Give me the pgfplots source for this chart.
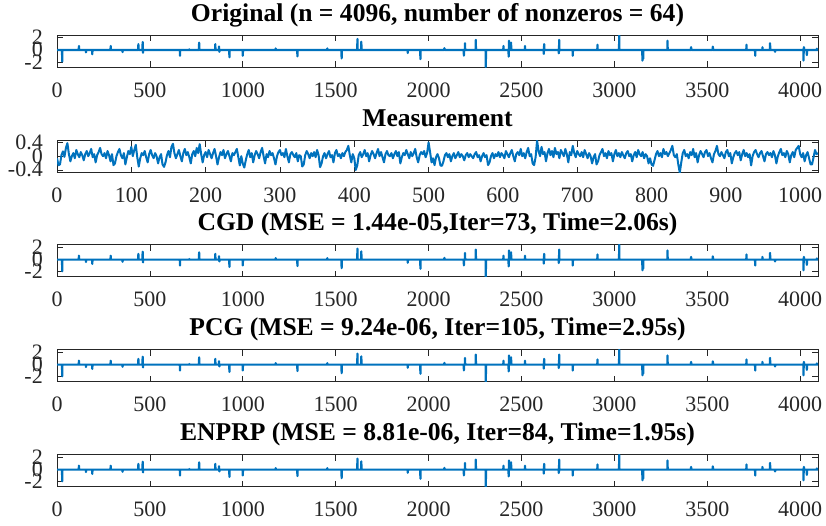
\documentclass[border=0pt]{standalone}
\usepackage{fontspec}
\setmainfont{Liberation Serif}
\usepackage{pgfplots}
\usepackage{pgfplotstable}
\pgfplotsset{compat=1.18}
\definecolor{mblue}{RGB}{0,114,189}
\definecolor{axgray}{RGB}{38,38,38}

% sparse signal: each spike as (i-1,0) (i,v) (i+1,0)
\pgfplotstableread{
x y
1 0
27 0
28 -1.9
29 0
117 0
118 0.65
119 0
155 0
156 -0.4
157 0
189 0
190 -0.7
191 0
288 0
289 0.65
290 0
352 0
353 -0.35
354 0
437 0
438 0.95
439 0
460 0
461 1.3
462 0
463 -0.45
464 0
661 0
662 -0.95
663 0
711 0
712 0.1
713 0
764 0
765 1.2
766 0
851 0
852 0.95
853 0
871 0
872 0.55
873 0
874 -0.3
875 0
927 0
928 -1.2
929 0
999 0
1000 -0.95
1001 0
1176 0
1177 0.25
1178 0
1293 0
1294 -1.05
1295 0
1454 0
1455 0.25
1456 0
1531 0
1532 -1.4
1533 0
1616 0
1617 1.8
1618 0
1637 0
1638 1.35
1639 0
1887 0
1888 -0.5
1889 0
1955 0
1956 -1.5
1957 0
2084 0
2085 0.3
2086 0
2189 0
2190 -0.95
2191 0
2195 0
2196 1.1
2197 0
2253 0
2254 1.65
2255 0
2307 0
2308 -2.8
2309 0
2402 0
2403 0.65
2404 0
2430 0
2431 -1.1
2432 0
2433 1.5
2434 0
2443 0
2444 1.2
2445 0
2518 0
2519 0.65
2520 0
2619 0
2620 -0.65
2621 0
2622 0.95
2623 0
2700 0
2701 -0.55
2702 0
2703 1.65
2704 0
2775 0
2776 -0.95
2777 0
2908 0
2909 0.85
2910 0
3025 0
3026 2.45
3027 0
3150 0
3151 -1.75
3152 0
3154 0
3155 -1.45
3156 0
3285 0
3286 1.5
3287 0
3412 0
3413 0.45
3414 0
3529 0
3530 0.55
3531 0
3710 0
3711 0.85
3712 0
3757 0
3758 -0.95
3759 0
3796 0
3797 0.45
3798 0
3837 0
3838 1.1
3839 0
3864 0
3865 -0.3
3866 0
4017 0
4018 -1.75
4019 0
4020 0.45
4021 0
4035 0
4036 -0.85
4037 0
4089 0
4090 0.2
4091 0
4096 0
}\sparsedata

% measurement, every 2nd sample (0, 2, ..., 1024)
\pgfplotstableread[row sep=\\]{
y\\
-0.06\\-0.26\\-0.24\\0.03\\0.14\\-0.02\\0.24\\0.38\\0.06\\-0.15\\0.00\\0.09\\-0.06\\0.18\\0.06\\-0.03\\0.12\\0.03\\-0.12\\0.06\\0.15\\0.00\\0.09\\0.21\\-0.03\\0.06\\-0.18\\0.03\\0.12\\0.24\\0.06\\0.00\\
0.09\\-0.06\\0.15\\0.03\\-0.15\\0.06\\-0.26\\-0.21\\0.00\\0.12\\0.21\\0.03\\-0.06\\0.09\\-0.24\\-0.03\\0.15\\0.06\\0.27\\0.00\\0.18\\0.33\\-0.03\\-0.30\\-0.06\\0.09\\0.03\\0.15\\-0.03\\-0.18\\0.06\\0.18\\
0.03\\-0.06\\0.09\\0.00\\-0.21\\-0.03\\0.06\\-0.24\\-0.31\\-0.18\\0.03\\0.15\\-0.03\\0.27\\0.36\\0.09\\-0.06\\0.06\\0.18\\0.00\\-0.15\\0.09\\0.21\\0.03\\0.12\\-0.03\\-0.21\\0.06\\0.15\\0.00\\0.24\\0.09\\
0.35\\0.06\\-0.18\\0.03\\0.12\\-0.03\\0.18\\0.06\\-0.06\\0.09\\0.21\\0.00\\-0.24\\-0.03\\0.12\\0.03\\0.18\\-0.06\\0.06\\0.15\\0.00\\-0.15\\0.09\\0.03\\0.12\\0.21\\-0.03\\-0.27\\0.00\\-0.22\\-0.33\\-0.12\\
0.06\\0.18\\-0.03\\0.09\\-0.18\\0.03\\0.15\\0.06\\-0.06\\0.12\\0.24\\0.00\\-0.21\\0.06\\-0.03\\0.15\\0.03\\0.09\\-0.06\\-0.24\\0.00\\0.12\\0.18\\0.03\\0.09\\-0.03\\0.21\\0.00\\-0.18\\0.06\\0.12\\0.03\\
-0.03\\0.09\\-0.15\\0.03\\0.00\\-0.30\\-0.24\\0.03\\0.15\\0.06\\-0.06\\0.09\\0.00\\0.12\\-0.03\\0.18\\0.03\\-0.32\\-0.21\\0.00\\0.09\\-0.06\\0.06\\0.15\\-0.03\\0.03\\-0.18\\0.09\\0.18\\0.00\\0.06\\-0.06\\
0.09\\0.00\\0.12\\0.18\\0.30\\0.03\\-0.18\\0.06\\-0.06\\-0.40\\-0.27\\0.03\\0.12\\-0.03\\0.06\\0.18\\0.00\\0.09\\-0.15\\0.03\\0.15\\0.06\\-0.06\\0.09\\0.21\\0.00\\0.12\\-0.03\\-0.18\\0.06\\0.15\\0.03\\
0.00\\0.09\\-0.06\\0.06\\0.15\\0.00\\0.12\\-0.21\\-0.03\\0.09\\0.03\\0.18\\0.06\\-0.06\\0.12\\0.00\\0.09\\0.21\\-0.03\\-0.18\\0.03\\0.12\\0.06\\0.15\\-0.03\\0.09\\0.40\\0.12\\-0.18\\-0.06\\-0.26\\-0.03\\
0.06\\-0.06\\-0.27\\-0.28\\-0.15\\0.03\\0.09\\-0.03\\0.06\\-0.15\\0.00\\0.09\\-0.06\\0.03\\0.12\\-0.03\\0.06\\0.00\\-0.12\\0.03\\0.09\\-0.03\\0.06\\0.00\\-0.06\\0.06\\0.12\\-0.03\\0.03\\-0.15\\0.00\\0.09\\
-0.03\\0.03\\-0.26\\-0.18\\0.00\\0.09\\-0.06\\0.06\\0.00\\0.12\\-0.03\\0.09\\0.03\\-0.06\\0.15\\0.06\\-0.03\\0.09\\0.18\\0.00\\-0.15\\0.06\\0.12\\0.03\\0.21\\0.00\\0.09\\-0.06\\0.12\\0.24\\0.00\\0.06\\
-0.21\\-0.26\\-0.03\\0.45\\0.15\\0.00\\0.27\\0.06\\0.12\\-0.15\\0.09\\0.21\\0.03\\0.15\\-0.03\\0.24\\0.06\\0.12\\-0.06\\0.18\\0.09\\0.00\\0.21\\0.06\\-0.18\\0.12\\0.03\\0.30\\0.09\\-0.03\\0.15\\0.06\\
0.00\\0.12\\-0.03\\0.18\\0.06\\-0.06\\0.09\\0.00\\-0.21\\-0.03\\0.06\\-0.24\\-0.15\\0.03\\0.12\\0.21\\0.00\\0.09\\-0.06\\0.15\\0.03\\0.09\\-0.15\\0.06\\0.18\\0.00\\0.09\\-0.03\\0.12\\0.03\\-0.06\\0.09\\
0.15\\0.00\\0.06\\-0.15\\0.03\\0.12\\-0.03\\0.18\\0.06\\0.00\\0.12\\-0.06\\0.06\\0.00\\-0.21\\-0.06\\-0.24\\-0.28\\-0.12\\0.06\\0.15\\0.00\\0.09\\-0.03\\0.21\\0.06\\0.12\\0.00\\0.09\\0.18\\0.30\\0.03\\
-0.03\\0.06\\-0.24\\-0.48\\-0.18\\0.09\\0.18\\0.00\\0.06\\-0.06\\0.12\\0.03\\0.21\\-0.03\\0.09\\-0.18\\0.03\\0.15\\0.06\\-0.03\\0.12\\0.18\\0.00\\0.09\\-0.06\\-0.18\\0.06\\0.15\\0.30\\0.06\\0.00\\0.12\\
0.03\\-0.06\\0.12\\0.18\\0.00\\0.09\\-0.21\\-0.03\\0.09\\0.15\\0.03\\0.12\\-0.12\\0.06\\0.18\\0.00\\0.09\\-0.03\\0.06\\-0.27\\0.00\\0.12\\0.18\\0.06\\-0.03\\0.09\\0.15\\0.00\\-0.15\\0.06\\0.12\\0.03\\
0.09\\-0.03\\0.15\\0.03\\-0.21\\0.00\\0.12\\0.21\\0.03\\0.09\\-0.03\\0.15\\0.06\\-0.18\\0.03\\0.12\\-0.03\\0.18\\0.24\\0.30\\0.06\\-0.03\\0.09\\-0.15\\0.03\\0.12\\-0.06\\-0.24\\-0.24\\-0.03\\0.18\\0.06\\
0.09\\
}\measdata

\pgfplotsset{
  panel/.style={
    scale only axis, width=761pt, height=32pt,
    anchor=north west,
    axis line style={axgray, line width=0.7pt},
    tick style={axgray, line width=0.7pt},
    tick align=inside, major tick length=6pt,
    xtick pos=both, ytick pos=both,
    tick label style={font=\fontsize{22}{24}\selectfont, text=axgray},
    /pgf/number format/assume math mode=true,
    /pgf/number format/1000 sep={},
    xticklabel style={anchor=base, inner sep=0pt, yshift=-30pt},
    yticklabel style={anchor=base east, inner sep=0pt, xshift=-14pt, yshift=-7pt},
    title style={font=\fontsize{25.6}{27}\selectfont\bfseries, anchor=base, at={(0.5,1)}, yshift=8pt},
  },
  sparse/.style={
    panel, xmin=0, xmax=4096, ymin=-2.8, ymax=2.45,
    xtick={0,500,...,4000},
    ytick={-2,0,2}, yticklabels={-2,0,2},
  },
  sig/.style={mblue, line width=2.2pt, line join=round},
}

\begin{document}
\begin{tikzpicture}
\useasboundingbox (0,0) rectangle (826pt,-525pt);

\begin{axis}[sparse, at={(57pt,-35pt)},
  title={Original (n = 4096, number of nonzeros = 64)}]
\addplot[sig] table[x=x, y=y] {\sparsedata};
\end{axis}

\begin{axis}[panel, at={(57pt,-140.7pt)}, xmin=0, xmax=1024, ymin=-0.48, ymax=0.45,
  xtick={0,100,...,1000},
  ytick={-0.4,0,0.4}, yticklabels={-0.4,0,0.4},
  title={Measurement}]
\addplot[sig, line width=2pt] table[x expr=\coordindex*2, y=y] {\measdata};
\end{axis}

\begin{axis}[sparse, at={(57pt,-244.7pt)},
  title={CGD (MSE = 1.44e-05,Iter=73, Time=2.06s)}]
\addplot[sig] table[x=x, y=y] {\sparsedata};
\end{axis}

\begin{axis}[sparse, at={(57pt,-349.7pt)},
  title={PCG (MSE = 9.24e-06, Iter=105, Time=2.95s)}]
\addplot[sig] table[x=x, y=y] {\sparsedata};
\end{axis}

\begin{axis}[sparse, at={(57pt,-454.7pt)},
  title={ENPRP (MSE = 8.81e-06, Iter=84, Time=1.95s)}]
\addplot[sig] table[x=x, y=y] {\sparsedata};
\end{axis}

\end{tikzpicture}
\end{document}
